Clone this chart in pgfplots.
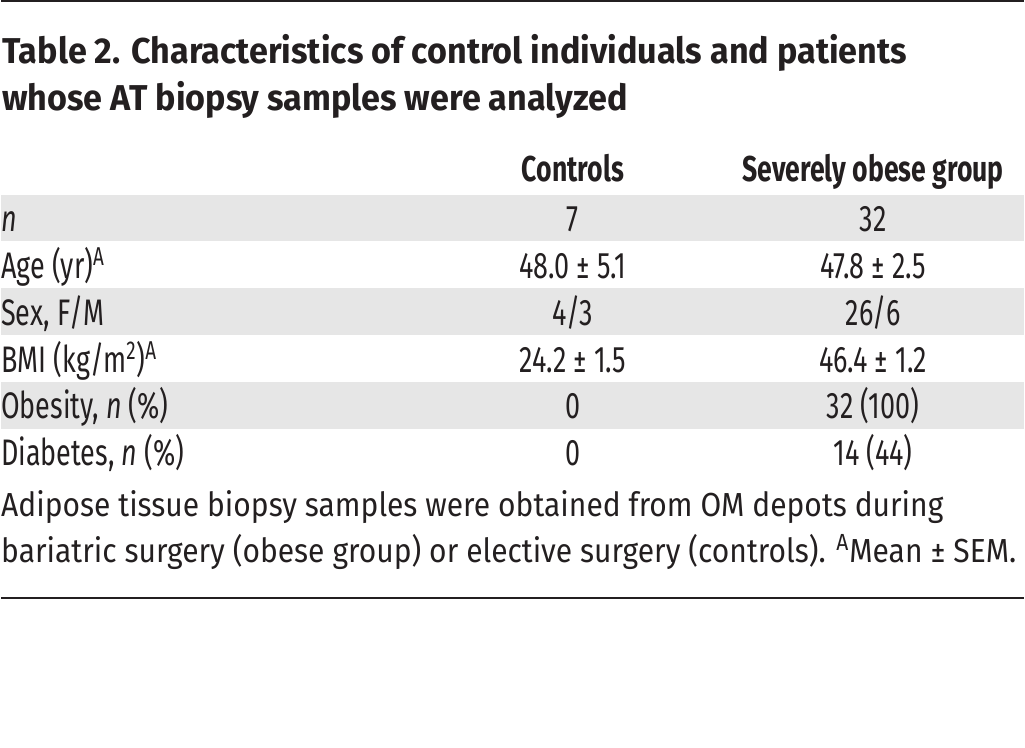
\documentclass[border=0pt]{standalone}
\usepackage{pgfplots}
\pgfplotsset{compat=1.18}
\usepackage{fontspec}
\setmainfont{Fira Sans}[FakeStretch=0.9]
\newfontfamily\tbodyf{Fira Sans}[FakeStretch=0.73]
\newfontfamily\theadf{Fira Sans}[FakeStretch=0.74]
\newfontfamily\ttitlef{Fira Sans}[FakeStretch=0.95]
\definecolor{txt}{HTML}{231F20}
\definecolor{band}{HTML}{E6E6E6}
\newcommand{\bodyfont}{\tbodyf\fontsize{18.5}{21}\selectfont}
\newcommand{\headfont}{\theadf\fontsize{18}{21}\selectfont\bfseries}
\newcommand{\titlefont}{\ttitlef\fontsize{18}{21}\selectfont\bfseries}
\newcommand{\capfont}{\fontsize{16.7}{20}\selectfont}
\tikzset{tx/.style={inner sep=0pt, outer sep=0pt, text=txt}}
\begin{document}
\begin{tikzpicture}
\begin{axis}[
  scale only axis, width=512.5pt, height=374.5pt,
  xmin=0, xmax=1025, ymin=0, ymax=749, y dir=reverse,
  hide axis, clip=false,
]
% frame for bounding box
\addplot[draw=none] coordinates {(0,0) (1025,749)};
% gray bands
\addplot[fill=band, draw=none] coordinates {(0,195) (1025,195) (1025,242) (0,242)};
\addplot[fill=band, draw=none] coordinates {(0,289) (1025,289) (1025,336) (0,336)};
\addplot[fill=band, draw=none] coordinates {(0,383) (1025,383) (1025,430) (0,430)};
% rules
\addplot[txt, line width=1.25pt] coordinates {(0,1.25) (1025,1.25)};
\addplot[txt, line width=1pt] coordinates {(0,599) (1025,599)};
% title
\node[tx, anchor=base west, font=\titlefont] at (axis cs:1,64) {Table 2. Characteristics of control individuals and patients};
\node[tx, anchor=base west, font=\titlefont] at (axis cs:1,111) {whose AT biopsy samples were analyzed};
% header
\node[tx, anchor=base, font=\headfont] at (axis cs:573,182) {Controls};
\node[tx, anchor=base, font=\headfont] at (axis cs:874,182) {Severely obese group};
% rows
\node[tx, anchor=base west, font=\bodyfont] at (axis cs:0,232) {\itshape n};
\node[tx, anchor=base, font=\bodyfont] at (axis cs:573,232) {7};
\node[tx, anchor=base, font=\bodyfont] at (axis cs:874,232) {32};
\node[tx, anchor=base west, font=\bodyfont] at (axis cs:0,279) {Age (yr)\textsuperscript{A}};
\node[tx, anchor=base, font=\bodyfont] at (axis cs:573,279) {48.0 ± 5.1};
\node[tx, anchor=base, font=\bodyfont] at (axis cs:874,279) {47.8 ± 2.5};
\node[tx, anchor=base west, font=\bodyfont] at (axis cs:0,326) {Sex, F/M};
\node[tx, anchor=base, font=\bodyfont] at (axis cs:573,326) {4/3};
\node[tx, anchor=base, font=\bodyfont] at (axis cs:874,326) {26/6};
\node[tx, anchor=base west, font=\bodyfont] at (axis cs:0,373) {BMI (kg/m\textsuperscript{2})\textsuperscript{A}};
\node[tx, anchor=base, font=\bodyfont] at (axis cs:573,373) {24.2 ± 1.5};
\node[tx, anchor=base, font=\bodyfont] at (axis cs:874,373) {46.4 ± 1.2};
\node[tx, anchor=base west, font=\bodyfont] at (axis cs:0,420) {Obesity, \textit{n} (\%)};
\node[tx, anchor=base, font=\bodyfont] at (axis cs:573,420) {0};
\node[tx, anchor=base, font=\bodyfont] at (axis cs:874,420) {32 (100)};
\node[tx, anchor=base west, font=\bodyfont] at (axis cs:0,467) {Diabetes, \textit{n} (\%)};
\node[tx, anchor=base, font=\bodyfont] at (axis cs:573,467) {0};
\node[tx, anchor=base, font=\bodyfont] at (axis cs:874,467) {14 (44)};
% caption
\node[tx, anchor=base west, font=\capfont] at (axis cs:0,518) {Adipose tissue biopsy samples were obtained from OM depots during};
\node[tx, anchor=base west, font=\capfont] at (axis cs:0,564) {bariatric surgery (obese group) or elective surgery (controls). \textsuperscript{A}Mean ± SEM.};
\end{axis}
\end{tikzpicture}
\end{document}
